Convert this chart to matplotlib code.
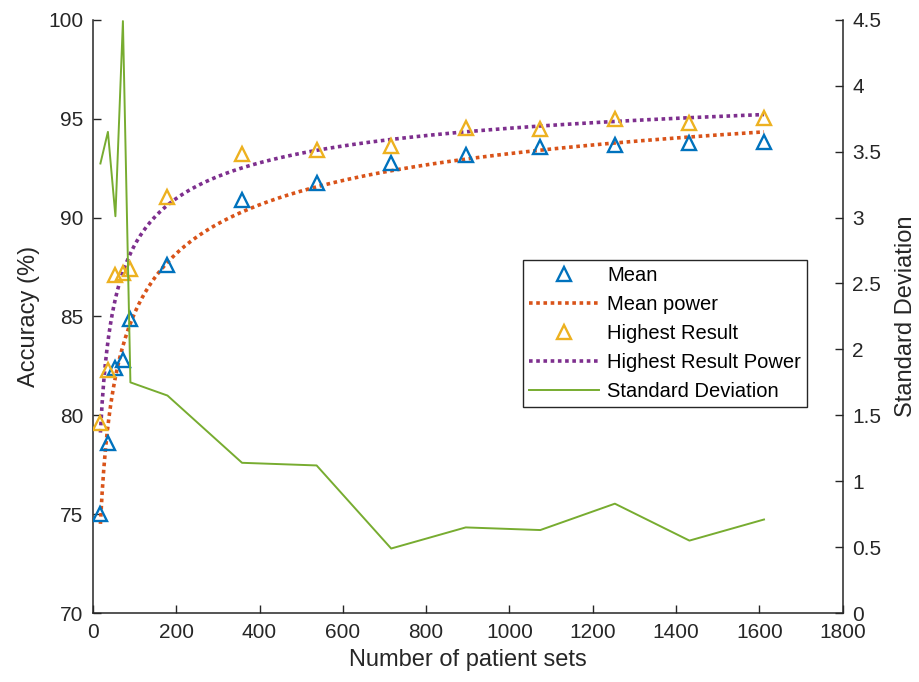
import numpy as np
import matplotlib
matplotlib.use("Agg")
import matplotlib.pyplot as plt

plt.rcParams["font.family"] = ["Liberation Sans", "DejaVu Sans"]

# --- data ---
patient_sets = np.array([18, 36, 54, 72, 90, 179, 358, 537, 716, 895, 1074, 1253, 1432, 1611])
mean_acc = np.array([75.0, 78.6, 82.4, 82.8, 84.85, 87.6, 90.9, 91.75, 92.75, 93.15,
                     93.55, 93.65, 93.75, 93.8])
highest_acc = np.array([79.6, 82.3, 87.1, 87.2, 87.4, 91.05, 93.2, 93.4, 93.6, 94.55,
                        94.5, 95.0, 94.8, 95.05])
std_dev = np.array([3.41, 3.65, 3.01, 4.49, 1.75, 1.65, 1.14, 1.12, 0.49, 0.65,
                    0.63, 0.83, 0.55, 0.71])

# matlab-ish default colours
c_mean = "#0072BD"
c_mean_fit = "#D95319"
c_high = "#EDB120"
c_high_fit = "#7E2F8E"
c_std = "#77AC30"
c_axis = "#262626"


def power2_fit(x, y):
    """least squares fit of y = a*x^b + c (b searched on a grid)"""
    best = None
    for b in np.linspace(-1.5, -0.01, 3000):
        A = np.column_stack([x ** b, np.ones_like(x, dtype=float)])
        coef = np.linalg.lstsq(A, y, rcond=None)[0]
        sse = np.sum((A @ coef - y) ** 2)
        if best is None or sse < best[0]:
            best = (sse, coef[0], b, coef[1])
    return best[1:]


x_fit = np.linspace(patient_sets.min(), patient_sets.max(), 400)
a1, b1, k1 = power2_fit(patient_sets.astype(float), mean_acc)
a2, b2, k2 = power2_fit(patient_sets.astype(float), highest_acc)

fig = plt.figure(figsize=(9.2, 6.82), dpi=100)
ax = fig.add_axes([0.101, 0.101, 0.815, 0.870])
ax2 = ax.twinx()

h_mean, = ax.plot(patient_sets, mean_acc, "^", color=c_mean, mfc="none",
                  ms=10, mew=1.7, label="Mean", zorder=3)
h_mfit, = ax.plot(x_fit, a1 * x_fit ** b1 + k1, color=c_mean_fit, lw=2.6,
                  linestyle=(0, (1, 1)), label="Mean power", zorder=2)
h_high, = ax.plot(patient_sets, highest_acc, "^", color=c_high, mfc="none",
                  ms=10, mew=1.7, label="Highest Result", zorder=3)
h_hfit, = ax.plot(x_fit, a2 * x_fit ** b2 + k2, color=c_high_fit, lw=2.6,
                  linestyle=(0, (1, 1)), label="Highest Result Power", zorder=2)
h_std, = ax2.plot(patient_sets, std_dev, "-", color=c_std, lw=1.4,
                  label="Standard Deviation")

ax.set_xlim(0, 1800)
ax.set_ylim(70, 100)
ax.set_xticks(np.arange(0, 1801, 200))
ax.set_yticks(np.arange(70, 101, 5))
ax2.set_ylim(0, 4.5)
ax2.set_yticks(np.arange(0, 4.51, 0.5))
ax2.set_yticklabels(["0", "0.5", "1", "1.5", "2", "2.5", "3", "3.5", "4", "4.5"])

for a in (ax, ax2):
    a.spines["top"].set_visible(False)
    a.tick_params(direction="in", length=6, width=1, labelsize=15,
                  colors=c_axis, pad=7)
    for s in a.spines.values():
        s.set_linewidth(1.1)
        s.set_color(c_axis)
ax.spines["right"].set_visible(False)
ax2.spines["left"].set_visible(False)
ax2.spines["bottom"].set_visible(False)

ax.set_xlabel("Number of patient sets", fontsize=17, color=c_axis, labelpad=5)
ax.set_ylabel("Accuracy (%)", fontsize=17, color=c_axis, labelpad=6)
ax2.set_ylabel("Standard Deviation", fontsize=17, color=c_axis, labelpad=10)

leg = ax2.legend(handles=[h_mean, h_mfit, h_high, h_hfit, h_std],
                 loc="upper left", bbox_to_anchor=(0.573, 0.595),
                 fontsize=14.5, frameon=True, fancybox=False, framealpha=1,
                 edgecolor=c_axis, handlelength=3.5, handletextpad=0.4,
                 labelspacing=0.5, borderpad=0.3, borderaxespad=0)
leg.get_frame().set_linewidth(1.0)

fig.savefig("out.png", dpi=100)
